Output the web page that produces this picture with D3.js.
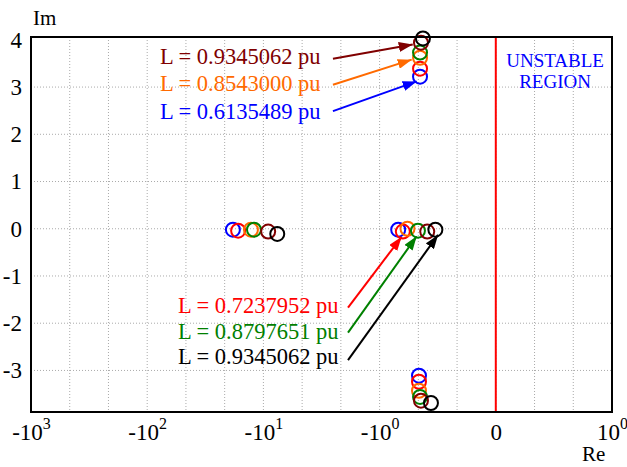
<!DOCTYPE html>
<html>
<head>
<meta charset="utf-8">
<script src="https://cdn.jsdelivr.net/npm/d3@7"></script>
<style>
  body { margin: 0; background: #fff; }
  svg { display: block; font-family: "Liberation Serif", "Times New Roman", serif; }
</style>
</head>
<body>
<svg id="chart" width="627" height="467"></svg>
<script>
// pole groups, order: blue, red, orange, green, maroon, black
const seriesColors = ["#0000ff", "#ff0000", "#ff6a00", "#008000", "#800000", "#000000"];

const upperRe = [-0.652, -0.652, -0.652, -0.652, -0.644, -0.627];
const upperIm = [3.22, 3.39, 3.62, 3.73, 3.94, 4.03];
const lowerRe = [-0.661, -0.661, -0.661, -0.652, -0.644, -0.558];
const lowerIm = [-3.11, -3.24, -3.43, -3.56, -3.64, -3.69];
const leftRe = [-18.3, -16.5, -12.8, -12.05, -9.1, -7.6];
const leftIm = [-0.02, -0.04, -0.02, -0.02, -0.06, -0.11];
const rightRe = [-0.84, -0.80, -0.76, -0.67, -0.59, -0.52];
const rightIm = [-0.02, -0.06, 0.0, -0.04, -0.06, -0.02];

// x tick values (real axis) and y ticks
const xTicks = [-1000, -100, -10, -1, 0, 1];
const xTickBase = ["-10", "-10", "-10", "-10", "0", "10"];
const xTickExp = ["3", "2", "1", "0", "", "0"];
const yTicks = [4, 3, 2, 1, 0, -1, -2, -3];

// annotations (label text, colour index, text pos, arrow start, arrow tip in data units)
const labelText = ["L = 0.9345062 pu", "L = 0.8543000 pu", "L = 0.6135489 pu",
                   "L = 0.7237952 pu", "L = 0.8797651 pu", "L = 0.9345062 pu"];
const labelColor = [4, 2, 0, 1, 3, 5];
const labelRe = [-77.6, -77.6, -77.6, -54.3, -54.3, -54.3];
const labelIm = [3.48, 2.91, 2.33, -1.78, -2.33, -2.86];
const arrowFromRe = [-2.52, -2.52, -2.52, -1.87, -1.87, -1.87];
const arrowFromIm = [3.60, 3.05, 2.49, -1.67, -2.20, -2.78];
const arrowToRe = [-0.715, -0.724, -0.681, -0.81, -0.681, -0.497];
const arrowToIm = [3.90, 3.58, 3.12, -0.17, -0.16, -0.13];

// custom real-axis transform: one decade per unit, linear between -1 and 1
function tr(re) {
  if (re <= -1) return 3 - Math.log10(-re);
  if (re < 1) return 4 + re;
  return 5 + Math.log10(re);
}

const svg = d3.select("#chart");
const plotL = 31, plotR = 612, plotT = 37, plotB = 412;

const xT = d3.scaleLinear().domain([0, 5]).range([plotL, plotR]);
const x = re => xT(tr(re));
const y = d3.scaleLinear().domain([-3.88, 4.06]).range([plotB, plotT]);

// grid
const g = svg.append("g");
const vgrid = d3.range(1, 15).map(k => k / 3);
g.selectAll("line.vg").data(vgrid).enter().append("line")
  .attr("x1", d => xT(d)).attr("x2", d => xT(d))
  .attr("y1", plotT).attr("y2", plotB)
  .attr("stroke", "#aaa").attr("stroke-width", 1).attr("stroke-dasharray", "1,2");
g.selectAll("line.hg").data(yTicks.filter(d => d < 4)).enter().append("line")
  .attr("x1", plotL).attr("x2", plotR)
  .attr("y1", d => y(d)).attr("y2", d => y(d))
  .attr("stroke", "#aaa").attr("stroke-width", 1).attr("stroke-dasharray", "1,2");

// stability boundary
svg.append("line")
  .attr("x1", x(0)).attr("x2", x(0)).attr("y1", plotT).attr("y2", plotB)
  .attr("stroke", "#ff0000").attr("stroke-width", 2);

svg.append("text").attr("x", x(0.51)).attr("y", y(3.43))
  .attr("text-anchor", "middle").attr("font-size", 19).attr("fill", "#0000ff")
  .text("UNSTABLE");
svg.append("text").attr("x", x(0.51)).attr("y", y(2.99))
  .attr("text-anchor", "middle").attr("font-size", 19).attr("fill", "#0000ff")
  .text("REGION");

// poles
const groups = [[upperRe, upperIm], [lowerRe, lowerIm], [leftRe, leftIm], [rightRe, rightIm]];
groups.forEach(([re, im]) => {
  svg.append("g").selectAll("circle").data(re).enter().append("circle")
    .attr("cx", d => x(d)).attr("cy", (d, i) => y(im[i])).attr("r", 7)
    .attr("fill", "none").attr("stroke", (d, i) => seriesColors[i]).attr("stroke-width", 2);
});

// arrow markers
const defs = svg.append("defs");
seriesColors.forEach((c, i) => {
  defs.append("marker").attr("id", "ah" + i)
    .attr("markerUnits", "userSpaceOnUse")
    .attr("viewBox", "0 0 14 10").attr("refX", 14).attr("refY", 5)
    .attr("markerWidth", 14).attr("markerHeight", 10).attr("orient", "auto")
    .append("path").attr("d", "M0,0 L14,5 L0,10 Z").attr("fill", c);
});

labelText.forEach((t, i) => {
  const c = seriesColors[labelColor[i]];
  svg.append("text").attr("x", x(labelRe[i])).attr("y", y(labelIm[i]))
    .attr("font-size", 22.5).attr("fill", c).text(t);
  svg.append("line")
    .attr("x1", x(arrowFromRe[i])).attr("y1", y(arrowFromIm[i]))
    .attr("x2", x(arrowToRe[i])).attr("y2", y(arrowToIm[i]))
    .attr("stroke", c).attr("stroke-width", 2)
    .attr("marker-end", "url(#ah" + labelColor[i] + ")");
});

// frame
svg.append("rect").attr("x", plotL).attr("y", plotT)
  .attr("width", plotR - plotL).attr("height", plotB - plotT)
  .attr("fill", "none").attr("stroke", "#000").attr("stroke-width", 2);

// x axis labels
const xAxis = svg.append("g").attr("transform", `translate(0,${plotB})`)
  .call(d3.axisBottom(xT).tickValues(xTicks.map(tr)).tickSize(0).tickPadding(0));
xAxis.select(".domain").remove();
xAxis.selectAll(".tick text").each(function(d, i) {
  const t = d3.select(this).text(null)
    .attr("y", 28).attr("dy", null)
    .attr("font-size", 23).attr("fill", "#000")
    .attr("font-family", "Liberation Serif, serif");
  t.append("tspan").text(xTickBase[i]);
  if (xTickExp[i]) t.append("tspan").attr("font-size", 16).attr("dy", -11).text(xTickExp[i]);
});

// y axis labels
const yAxis = svg.append("g").attr("transform", `translate(${plotL},0)`)
  .call(d3.axisLeft(y).tickValues(yTicks).tickFormat(d => String(d)).tickSize(0).tickPadding(9));
yAxis.select(".domain").remove();
yAxis.selectAll(".tick text")
  .attr("font-size", 23).attr("fill", "#000")
  .attr("font-family", "Liberation Serif, serif");

svg.append("text").attr("x", 33).attr("y", 25).attr("font-size", 21).text("Im");
svg.append("text").attr("x", 582).attr("y", 461).attr("font-size", 21).text("Re");
</script>
</body>
</html>
